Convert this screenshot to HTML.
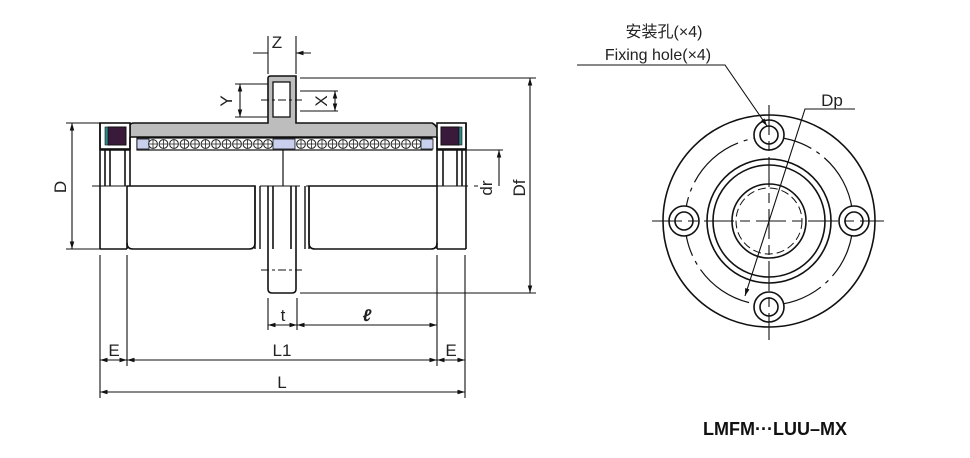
<!DOCTYPE html>
<html><head><meta charset="utf-8"><style>
html,body{margin:0;padding:0;background:#fff;}
svg{display:block}
text{font-family:"Liberation Sans","Noto Sans CJK SC",sans-serif;fill:#222}
</style></head><body>
<svg width="970" height="458" viewBox="0 0 970 458" xmlns="http://www.w3.org/2000/svg">
<defs>
<marker id="a" viewBox="0 0 10 10" refX="10" refY="5" markerWidth="7" markerHeight="7" orient="auto-start-reverse"><path d="M0,2 L10,5 L0,8z" fill="#111"/></marker>
<g id="ball"><circle r="4.4" fill="#fff" stroke="#222" stroke-width="1"/><path d="M-4.4,0H4.4M0,-4.4V4.4" stroke="#222" stroke-width="0.8"/></g>
</defs>
<g stroke="#111" stroke-width="1.6" fill="none">
<!-- grey sleeve -->
<path d="M130,125 Q131,123 134,123 L268,123 L268,78 Q268,76 271,76 L296,76 L296,123 L432,123 Q438,126 438,133 L438,137 L130,137 Z" fill="#bdbdbd"/>
<rect x="273" y="82" width="17" height="35" fill="#fff" stroke-width="1.3"/>
<!-- ball retainer strip -->
<rect x="137" y="138" width="295" height="12" fill="#fff" stroke-width="1.2"/>
<rect x="137" y="139" width="12" height="10" fill="#c8d0ee" stroke-width="0.8"/>
<rect x="421" y="139" width="12" height="10" fill="#c8d0ee" stroke-width="0.8"/>
<rect x="273" y="139" width="22" height="10" fill="#c8d0ee" stroke-width="0.8"/>
<!-- end seals -->
<rect x="100" y="123" width="30" height="26" fill="#fff"/>
<rect x="437" y="123" width="29" height="26" fill="#fff"/>
<rect x="108" y="127" width="18" height="18" fill="#3a1a3a" stroke-width="1"/>
<rect x="441" y="127" width="18" height="18" fill="#3a1a3a" stroke-width="1"/>
<rect x="105" y="127" width="3" height="18" fill="#2a8a8a" stroke-width="0.6"/>
<rect x="459" y="127" width="3" height="18" fill="#2a8a8a" stroke-width="0.6"/>
<!-- upper body lines -->
<path d="M100,123V249M466,123V249M105,150V186M110,150V186M130,137V186M437,137V186M457,150V186M462,150V186M125,150V186M443,150V186"/>
<path d="M100,150H130M437,150H466"/>
<path d="M283,150V186" stroke-width="1.2"/>
<!-- lower body -->
<path d="M127,186V249M437,186V249M100,249H127M437,249H466"/>
<path d="M127,186H255V243Q255,249 249,249H133Q127,249 127,243"/>
<path d="M437,186H309V243Q309,249 315,249H431Q437,249 437,243"/>
<path d="M255,186V249M260,186V249M305,186V249M309,186V249" stroke-width="1.4"/>
<path d="M268,186V289Q268,293 272,293H292Q296,293 296,289V186M273,186V249M291,186V249"/>
</g>
<g>
<use href="#ball" x="153" y="144"/><use href="#ball" x="163.5" y="144"/><use href="#ball" x="174" y="144"/><use href="#ball" x="184.5" y="144"/><use href="#ball" x="195" y="144"/><use href="#ball" x="205.5" y="144"/><use href="#ball" x="216" y="144"/><use href="#ball" x="226.5" y="144"/><use href="#ball" x="237" y="144"/><use href="#ball" x="247.5" y="144"/><use href="#ball" x="258" y="144"/><use href="#ball" x="268" y="144"/>
<use href="#ball" x="301" y="144"/><use href="#ball" x="311.5" y="144"/><use href="#ball" x="322" y="144"/><use href="#ball" x="332.5" y="144"/><use href="#ball" x="343" y="144"/><use href="#ball" x="353.5" y="144"/><use href="#ball" x="364" y="144"/><use href="#ball" x="374.5" y="144"/><use href="#ball" x="385" y="144"/><use href="#ball" x="395.5" y="144"/><use href="#ball" x="406" y="144"/><use href="#ball" x="416.5" y="144"/>
</g>
<!-- center lines -->
<g stroke="#111" stroke-width="1" fill="none">
<path d="M92,186H480" stroke-dasharray="40,6,4,6"/>
<path d="M261,100H302" stroke-dasharray="8,3,3,3"/>
<path d="M261,270H302" stroke-dasharray="8,3,3,3"/>
</g>
<!-- dimension lines -->
<g stroke="#111" stroke-width="1.1" fill="none">
<path d="M268,36V74M296,36V74"/>
<path d="M253,53H268M311,53H296" marker-end="url(#a)"/>
<path d="M235,84H268M235,117H268M300,91H338M300,111H338"/>
<path d="M240,84V117" marker-start="url(#a)" marker-end="url(#a)"/>
<path d="M335,91V111" marker-start="url(#a)" marker-end="url(#a)"/>
<path d="M66,123H100M66,249H100"/>
<path d="M72,123V249" marker-start="url(#a)" marker-end="url(#a)"/>
<path d="M300,78H536M300,293H536M466,150H503"/>
<path d="M530,78V293" marker-start="url(#a)" marker-end="url(#a)"/>
<path d="M499,150V186" marker-start="url(#a)"/>
<path d="M100,255V398M127,255V366M465,255V398M437,255V366M268,298V330M297,298V330"/>
<path d="M268,325H297" marker-start="url(#a)" marker-end="url(#a)"/>
<path d="M297,325H437" marker-start="url(#a)" marker-end="url(#a)"/>
<path d="M100,360H127" marker-start="url(#a)" marker-end="url(#a)"/>
<path d="M127,360H437" marker-start="url(#a)" marker-end="url(#a)"/>
<path d="M437,360H465" marker-start="url(#a)" marker-end="url(#a)"/>
<path d="M100,392H465" marker-start="url(#a)" marker-end="url(#a)"/>
</g>
<g font-size="17">
<text x="277" y="48" text-anchor="middle">Z</text>
<text transform="translate(232,101) rotate(-90)" text-anchor="middle">Y</text>
<text transform="translate(327,101) rotate(-90)" text-anchor="middle">X</text>
<text transform="translate(66,187) rotate(-90)" text-anchor="middle">D</text>
<text transform="translate(492,188) rotate(-90)" text-anchor="middle">dr</text>
<text transform="translate(525,188) rotate(-90)" text-anchor="middle">Df</text>
<text x="283" y="321" text-anchor="middle">t</text>
<text x="367" y="321" text-anchor="middle" font-style="italic" font-weight="bold">ℓ</text>
<text x="114" y="356" text-anchor="middle">E</text>
<text x="282" y="356" text-anchor="middle">L1</text>
<text x="451" y="356" text-anchor="middle">E</text>
<text x="282" y="388" text-anchor="middle">L</text>
</g>
<!-- right view -->
<g stroke="#111" stroke-width="1.6" fill="none">
<circle cx="769" cy="221" r="106"/>
<circle cx="769" cy="221" r="84" stroke-width="1.2" stroke-dasharray="60,6,4,6"/>
<circle cx="769" cy="221" r="62"/>
<circle cx="769" cy="221" r="56"/>
<circle cx="769" cy="221" r="37"/>
<circle cx="769" cy="221" r="33" stroke-width="1" stroke-dasharray="8,4"/>
<g fill="#fff">
<circle cx="769" cy="135" r="15"/><circle cx="769" cy="135" r="9"/>
<circle cx="769" cy="307" r="15"/><circle cx="769" cy="307" r="9"/>
<circle cx="684" cy="221" r="15"/><circle cx="684" cy="221" r="9"/>
<circle cx="854" cy="221" r="15"/><circle cx="854" cy="221" r="9"/>
</g>
</g>
<g stroke="#111" stroke-width="1.1" fill="none">
<path d="M652,221H884" stroke-dasharray="30,6,10,6"/>
<path d="M769,105V340" stroke-dasharray="30,6,10,6"/>
<path d="M577,65H725L767,126" marker-end="url(#a)"/>
<path d="M855,109H805L745,296" marker-end="url(#a)"/>
</g>
<text x="664" y="37" font-size="16" text-anchor="middle">安装孔(×4)</text>
<text x="658" y="60" font-size="16" text-anchor="middle">Fixing hole(×4)</text>
<text x="832" y="106" font-size="17" text-anchor="middle">Dp</text>
<text x="775" y="435" font-size="18" font-weight="bold" text-anchor="middle" style="fill:#111">LMFM···LUU–MX</text>
</svg>
</body></html>
